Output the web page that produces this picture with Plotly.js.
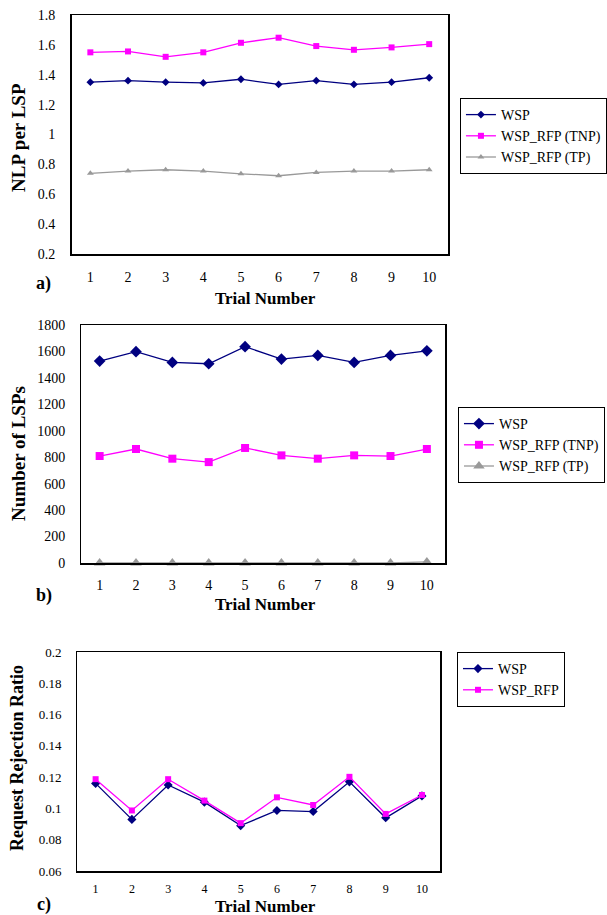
<!DOCTYPE html>
<html><head><meta charset="utf-8">
<script src="https://cdn.plot.ly/plotly-3.0.1.min.js"></script>
<style>html,body{margin:0;padding:0;background:#fff;}#chart{width:607px;height:915px;}</style>
</head><body><div id="chart"></div>
<script>
const trials = [1,2,3,4,5,6,7,8,9,10];
// Panel a: NLP per LSP
const nlpWSP = [1.35,1.36,1.35,1.345,1.37,1.335,1.36,1.335,1.35,1.38];
const nlpTNP = [1.55,1.556,1.52,1.55,1.614,1.648,1.592,1.567,1.583,1.605];
const nlpTP  = [0.74,0.755,0.764,0.755,0.737,0.724,0.746,0.755,0.755,0.764];
// Panel b: Number of LSPs
const lspWSP = [1527,1598,1517,1507,1636,1542,1570,1517,1570,1605];
const lspTNP = [809,862,789,763,870,814,789,814,809,862];
const lspTP  = [0,0,0,0,0,0,0,0,0,8];
// Panel c: Request rejection ratio
const rrWSP = [0.116,0.093,0.115,0.104,0.089,0.0987,0.098,0.117,0.094,0.108];
const rrRFP = [0.1187,0.0987,0.1187,0.105,0.0906,0.1071,0.1022,0.1202,0.0965,0.1086];

const W=607,H=915;
const F='Liberation Serif';
const NAVY='#000080', MAG='#FF00FF', GRAY='#999999';
const px=(a,b)=>[a/W,b/W];
const py=(top,bot)=>[1-bot/H,1-top/H];

function tr(x,y,name,color,sym,size,xa,ya,leg){
  return {x:x,y:y,name:name,type:'scatter',mode:'lines+markers',xaxis:xa,yaxis:ya,
    legend:leg,showlegend:true,cliponaxis:false,
    line:{color:color,width:1.3},marker:{color:color,symbol:sym,size:size}};
}
const data=[
  tr(trials,nlpWSP,'WSP',NAVY,'diamond',6,'x','y','legend'),
  tr(trials,nlpTNP,'WSP_RFP (TNP)',MAG,'square',6,'x','y','legend'),
  tr(trials,nlpTP,'WSP_RFP (TP)',GRAY,'triangle-up',6,'x','y','legend'),
  tr(trials,lspWSP,'WSP',NAVY,'diamond',9,'x2','y2','legend2'),
  tr(trials,lspTNP,'WSP_RFP (TNP)',MAG,'square',8,'x2','y2','legend2'),
  tr(trials,lspTP,'WSP_RFP (TP)',GRAY,'triangle-up',10,'x2','y2','legend2'),
  tr(trials,rrWSP,'WSP',NAVY,'diamond',7,'x3','y3','legend3'),
  tr(trials,rrRFP,'WSP_RFP',MAG,'square',6,'x3','y3','legend3')
];
function xax(dom,anchor,sz,so){
  return {domain:dom,anchor:anchor,range:[0.5,10.5],tickvals:trials,ticks:'',showgrid:false,zeroline:false,
    showline:true,mirror:true,linecolor:'#000',linewidth:1.5,ticklabelstandoff:so,
    tickfont:{family:F,size:sz,color:'#000'},fixedrange:true};
}
function yax(dom,anchor,range,dtick,sz){
  return {domain:dom,anchor:anchor,range:range,dtick:dtick,ticks:'',showgrid:false,zeroline:false,
    showline:true,mirror:true,linecolor:'#000',linewidth:1.5,ticklabelstandoff:12,
    tickfont:{family:F,size:sz,color:'#000'},fixedrange:true};
}
function leg(x,y,sz){
  return {x:x/W,y:1-y/H,xanchor:'left',yanchor:'top',bgcolor:'#fff',bordercolor:'#000',borderwidth:1,
    font:{family:F,size:sz,color:'#000'},tracegroupgap:0,itemwidth:30};
}
function ann(text,x,y,size,angle){
  return {text:'<b>'+text+'</b>',x:x/W,y:1-y/H,xref:'paper',yref:'paper',showarrow:false,
    xanchor:'center',yanchor:'middle',textangle:angle||0,font:{family:F,size:size,color:'#000'}};
}
const layout={
  width:W,height:H,margin:{l:0,r:0,t:0,b:0},paper_bgcolor:'#fff',plot_bgcolor:'#fff',
  font:{family:F,color:'#000'},
  xaxis:xax(px(72,451),'y',14,10),
  yaxis:yax(py(15,254),'x',[0.2,1.8],0.2,14),
  xaxis2:xax(px(82,448),'y2',14,9),
  yaxis2:yax(py(325,563),'x2',[0,1800],200,14),
  xaxis3:xax(px(78,443),'y3',12,6),
  yaxis3:yax(py(652,871),'x3',[0.06,0.2],0.02,13),
  legend:leg(463,98,14),
  legend2:leg(461,407,14),
  legend3:leg(460,652,14),
  annotations:[
    ann('NLP per LSP',18,137,19,-90),
    ann('Trial Number',267,298,17),
    ann('a)',44,283,18),
    ann('Number of LSPs',18,453,19,-90),
    ann('Trial Number',267,604,17),
    ann('b)',44,595,18),
    ann('Request Rejection Ratio',17,758,18,-90),
    ann('Trial Number',267,906,17),
    ann('c)',44,904,18)
  ]
};
Plotly.newPlot('chart',data,layout,{displayModeBar:false,staticPlot:true});
</script></body></html>
